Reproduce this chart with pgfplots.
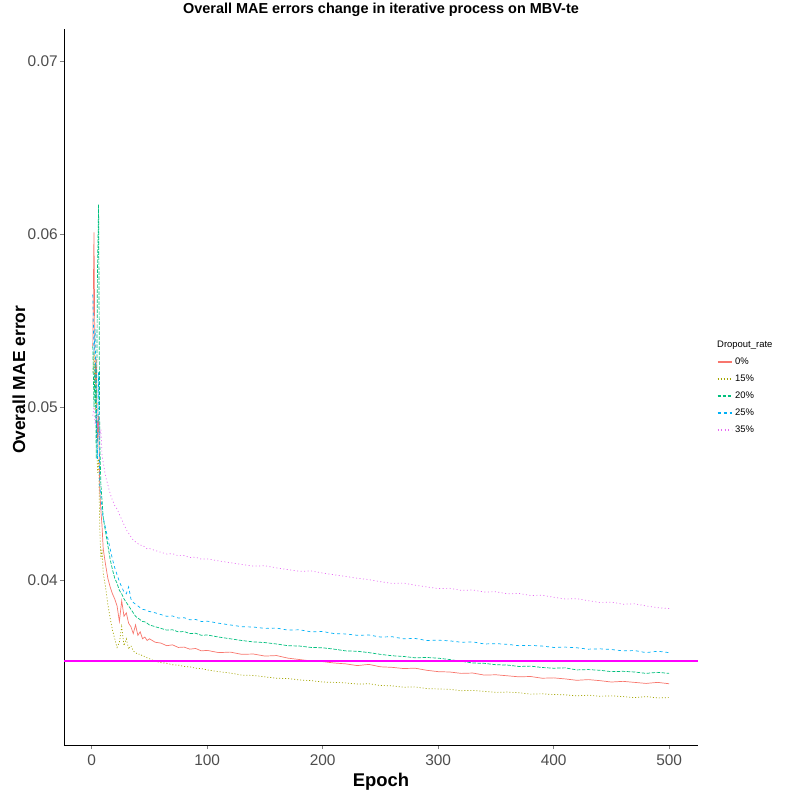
\documentclass[border=0pt]{standalone}
\usepackage{fontspec}
\setmainfont{Liberation Sans}
\usepackage{pgfplots}
\pgfplotsset{compat=1.18}
\definecolor{c0}{RGB}{248,118,109}
\definecolor{c15}{RGB}{163,165,0}
\definecolor{c20}{RGB}{0,191,125}
\definecolor{c25}{RGB}{0,176,246}
\definecolor{c35}{RGB}{231,107,243}
\definecolor{hline}{RGB}{255,0,255}
\begin{document}
\begin{tikzpicture}
\begin{axis}[name=ax,
  scale only axis, width=634bp, height=716bp,
  xmin=-23.95, xmax=524.95, ymin=0.03046, ymax=0.07185,
  axis x line*=bottom, axis y line*=left,
  axis line style={-, line width=0.6bp},
  xtick={0,100,200,300,400,500},
  ytick={0.04,0.05,0.06,0.07}, yticklabels={0.04,0.05,0.06,0.07},
  scaled y ticks=false,
  tick align=outside, major tick length=4bp,
  tick style={line width=0.6bp},
  ticklabel style={font=\fontsize{15.5}{17}\selectfont\addfontfeatures{Color=4D4D4D}},
  xticklabel style={inner sep=2bp, yshift=-4bp},
  yticklabel style={inner sep=2bp},
  /pgf/number format/assume math mode=true,
  title={Overall MAE errors change in iterative process on MBV-te},
  title style={at={(axis description cs:0.5,1.0126)}, anchor=base, font=\fontsize{14.5}{16}\selectfont\bfseries},
  xlabel={Epoch},
  xlabel style={at={(axis description cs:0.5,-0.0585)}, anchor=base, font=\fontsize{18.5}{20}\selectfont\bfseries},
  ylabel={Overall MAE error},
  ylabel style={at={(axis description cs:-0.0615,0.51)}, anchor=base, font=\fontsize{17.5}{20}\selectfont\bfseries},
  legend image code/.code={
    \draw[#1, line width=1.1bp] (1.5bp,0bp) -- (15.5bp,0bp);
  },
  legend style={at={(axis description cs:1.03,0.4874)}, anchor=west,
    draw=none, fill=none, inner sep=0pt, outer sep=0pt,
    row sep=0pt, column sep=3bp,
    nodes={minimum height=17bp, inner sep=0pt},
    font=\fontsize{9.5}{10}\selectfont},
  legend cell align=left,
]
% 0%
\addplot[c0, line width=0.7bp] table {
x y
1 0.0535
2 0.0601
3 0.0512
4 0.0528
5 0.0480
6 0.0495
7 0.0452
8 0.0440
9 0.0431
10 0.0418
12 0.0409
14 0.0401
16 0.0396
18 0.0392
20 0.0389
22 0.0385
24 0.0376
26 0.0388
28 0.0379
30 0.0381
32 0.0375
34 0.0373
36 0.0369
38 0.0374
40 0.0368
42 0.0370
44 0.0366
46 0.0367
48 0.0365
50 0.0366
55 0.0364
60 0.03635
65 0.0362
70 0.03625
75 0.0361
80 0.03612
85 0.0360
90 0.03604
95 0.0359
100 0.03593
110 0.0358
120 0.03583
130 0.0357
140 0.03572
150 0.0356
160 0.03563
170 0.03548
180 0.0354
190 0.03532
200 0.03528
210 0.0352
220 0.03515
230 0.03505
240 0.03512
250 0.03498
260 0.03495
270 0.03488
280 0.0349
290 0.03478
300 0.0347
310 0.03468
320 0.0346
330 0.03462
340 0.0345
350 0.03452
360 0.03446
370 0.0344
380 0.03442
390 0.03432
400 0.03434
410 0.03428
420 0.0342
430 0.03424
440 0.03418
450 0.0341
460 0.03414
470 0.03408
480 0.03402
490 0.03408
500 0.034
};
\addlegendentry{0\%}
% 15%
\addplot[c15, line width=0.7bp, dash pattern=on 1bp off 2bp] table {
x y
1 0.0520
2 0.0532
3 0.0498
4 0.0510
5 0.0462
6 0.0470
7 0.0430
8 0.0412
9 0.0418
10 0.0404
12 0.0396
14 0.0386
16 0.0378
18 0.0371
20 0.0366
22 0.0361
24 0.0364
26 0.0373
28 0.0362
30 0.0366
32 0.0360
34 0.0362
36 0.0359
38 0.0358
40 0.0357
42 0.03572
44 0.0356
46 0.03558
48 0.0355
50 0.03545
55 0.0353
60 0.03522
65 0.03518
70 0.0351
75 0.03508
80 0.035
85 0.03498
90 0.0349
95 0.03488
100 0.0348
110 0.0347
120 0.03462
130 0.0345
140 0.03448
150 0.0344
160 0.03432
170 0.0343
180 0.03422
190 0.03418
200 0.0341
210 0.03408
220 0.03405
230 0.03398
240 0.034
250 0.0339
260 0.03388
270 0.0338
280 0.03382
290 0.03372
300 0.0337
310 0.03368
320 0.0336
330 0.03362
340 0.03356
350 0.0335
360 0.03352
370 0.03348
380 0.0334
390 0.03342
400 0.03338
410 0.03336
420 0.0333
430 0.03334
440 0.03328
450 0.0333
460 0.03326
470 0.0332
480 0.03326
490 0.03318
500 0.0332
};
\addlegendentry{15\%}
% 20%
\addplot[c20, line width=0.7bp, dash pattern=on 3.5bp off 1.5bp] table {
x y
1 0.0535
2 0.0500
3 0.0525
4 0.0470
5 0.0577
6 0.0617
7 0.0480
8 0.0455
9 0.0446
10 0.0436
12 0.0428
14 0.0420
16 0.0412
18 0.0406
20 0.0401
22 0.0398
24 0.0394
26 0.0392
28 0.0389
30 0.0387
32 0.0385
34 0.0383
36 0.0381
38 0.0379
40 0.0378
42 0.0377
44 0.0376
46 0.03758
48 0.0375
50 0.0374
55 0.0373
60 0.0372
65 0.0371
70 0.03712
75 0.0370
80 0.03702
85 0.0369
90 0.03692
95 0.0368
100 0.03682
110 0.0367
120 0.0366
130 0.0365
140 0.03642
150 0.03638
160 0.0363
170 0.0362
180 0.03618
190 0.0361
200 0.03608
210 0.036
220 0.0359
230 0.03588
240 0.0358
250 0.0357
260 0.03562
270 0.03558
280 0.0355
290 0.03552
300 0.03548
310 0.0354
320 0.0353
330 0.0352
340 0.03518
350 0.0351
360 0.03508
370 0.035
380 0.03502
390 0.03494
400 0.0349
410 0.03492
420 0.0348
430 0.03482
440 0.03478
450 0.0347
460 0.03472
470 0.03468
480 0.0346
490 0.03466
500 0.0346
};
\addlegendentry{20\%}
% 25%
\addplot[c25, line width=0.7bp, dash pattern=on 3bp off 3bp] table {
x y
1 0.0565
2 0.0530
3 0.0545
4 0.0495
5 0.0470
6 0.0520
7 0.0455
8 0.0448
9 0.0440
10 0.0436
12 0.0430
14 0.0424
16 0.0418
18 0.0412
20 0.0407
22 0.0403
24 0.0399
26 0.0396
28 0.0393
30 0.0392
32 0.0396
34 0.0389
36 0.0387
38 0.0386
40 0.0385
42 0.0384
44 0.0383
46 0.03828
48 0.0382
50 0.03818
55 0.0381
60 0.038
65 0.0379
70 0.03792
75 0.0378
80 0.03782
85 0.0377
90 0.03772
95 0.0376
100 0.03762
110 0.0375
120 0.0374
130 0.0373
140 0.03728
150 0.0372
160 0.03722
170 0.0371
180 0.03712
190 0.037
200 0.03702
210 0.0369
220 0.03688
230 0.0368
240 0.03682
250 0.0367
260 0.03672
270 0.0366
280 0.03662
290 0.0365
300 0.03652
310 0.03648
320 0.0364
330 0.03642
340 0.0363
350 0.03632
360 0.03628
370 0.0362
380 0.03622
390 0.03618
400 0.0361
410 0.03612
420 0.03608
430 0.036
440 0.03602
450 0.03598
460 0.0359
470 0.03592
480 0.0358
490 0.03588
500 0.0358
};
\addlegendentry{25\%}
% 35%
\addplot[c35, line width=0.7bp, dash pattern=on 1bp off 2.5bp] table {
x y
1 0.0495
2 0.0500
3 0.0490
4 0.0495
5 0.0488
6 0.0490
7 0.0482
8 0.0487
9 0.0472
10 0.0468
12 0.0460
14 0.0455
16 0.0450
18 0.0446
20 0.0443
22 0.0441
24 0.0438
26 0.0435
28 0.0432
30 0.0429
32 0.0427
34 0.0425
36 0.0423
38 0.0422
40 0.0421
42 0.0420
44 0.04202
46 0.0419
48 0.0418
50 0.04182
55 0.0417
60 0.0416
65 0.0415
70 0.04152
75 0.0414
80 0.04142
85 0.0413
90 0.04132
95 0.0412
100 0.04122
110 0.0411
120 0.041
130 0.0409
140 0.0408
150 0.04082
160 0.0407
170 0.0406
180 0.0405
190 0.04052
200 0.0404
210 0.0403
220 0.0402
230 0.0401
240 0.04002
250 0.0399
260 0.0398
270 0.03982
280 0.0397
290 0.0396
300 0.0395
310 0.03952
320 0.0394
330 0.03942
340 0.0393
350 0.03932
360 0.0392
370 0.03922
380 0.0391
390 0.03912
400 0.039
410 0.0389
420 0.03892
430 0.0388
440 0.0387
450 0.03872
460 0.0386
470 0.03862
480 0.0385
490 0.0384
500 0.03835
};
\addlegendentry{35\%}
% reference line
\addplot[hline, line width=1.2bp, forget plot] coordinates {(-23.95,0.03532) (524.95,0.03532)};
\end{axis}
\node[anchor=west, font=\fontsize{9.5}{10}\selectfont, inner sep=0pt]
  at ([xshift=19bp, yshift=42bp]ax.east) {Dropout\_rate};
\pgfresetboundingbox
\path[use as bounding box] ([shift={(-64bp,-54bp)}]ax.south west) rectangle ([shift={(89bp,29bp)}]ax.north east);
\end{tikzpicture}
\end{document}
